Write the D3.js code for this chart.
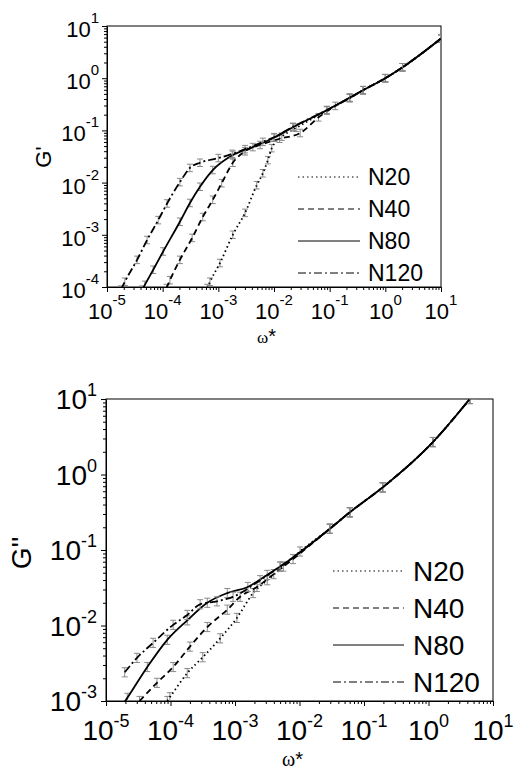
<!DOCTYPE html>
<html>
<head>
<meta charset="utf-8">
<script src="https://cdn.jsdelivr.net/npm/d3@7"></script>
<style>
  body { margin: 0; background: #fff; }
  svg { display: block; }
  text { font-family: "Liberation Sans", Arial, sans-serif; fill: #000; }
</style>
</head>
<body>
<svg id="chart" width="514" height="770"></svg>
<script>
// data: [omega*, modulus]
// storage modulus G'
var gp_N20 = [[6.31e-4, 9.55e-5], [7.08e-4, 1.26e-4], [1.07e-3, 2.88e-4], [1.82e-3, 1.0e-3], [3.02e-3, 2.63e-3],
  [4.90e-3, 8.91e-3], [6.31e-3, 1.51e-2], [7.76e-3, 2.69e-2], [9.12e-3, 4.57e-2], [1.38e-2, 7.59e-2],
  [2.51e-2, 0.112], [8.91e-2, 0.240], [0.229, 0.417], [0.398, 0.589], [1, 1], [2.04, 1.62], [10, 5.75]]
var gp_N40 = [[1.17e-4, 9.55e-5], [1.35e-4, 1.35e-4], [2.04e-4, 3.31e-4], [3.39e-4, 8.71e-4], [5.25e-4, 2.19e-3],
  [7.94e-4, 4.68e-3], [1.15e-3, 9.77e-3], [1.82e-3, 2.40e-2], [3.02e-3, 3.98e-2], [5.62e-3, 5.25e-2],
  [1.26e-2, 6.92e-2], [2.95e-2, 8.91e-2], [6.31e-2, 0.178], [0.126, 0.295], [0.229, 0.417], [0.398, 0.589],
  [1, 1], [2.04, 1.62], [10, 5.75]]
var gp_N80 = [[4.27e-5, 8.9e-5], [4.79e-5, 1.10e-4], [6.76e-5, 2.14e-4], [1.02e-4, 4.79e-4], [2.04e-4, 1.78e-3],
  [3.09e-4, 4.07e-3], [4.68e-4, 8.32e-3], [7.94e-4, 1.74e-2], [1.82e-3, 3.39e-2], [4.17e-3, 4.79e-2],
  [1.0e-2, 7.24e-2], [2.19e-2, 0.115], [8.91e-2, 0.245], [0.229, 0.427], [0.398, 0.589], [1, 1],
  [2.04, 1.62], [10, 5.75]]
var gp_N120 = [[1.78e-5, 8.9e-5], [2.09e-5, 1.26e-4], [3.47e-5, 3.31e-4], [5.25e-5, 7.94e-4], [8.32e-5, 1.91e-3],
  [1.20e-4, 3.98e-3], [2.04e-4, 1.02e-2], [3.09e-4, 1.91e-2], [4.68e-4, 2.40e-2], [1.0e-3, 2.95e-2],
  [1.78e-3, 3.55e-2], [3.02e-3, 4.37e-2], [6.31e-3, 6.03e-2], [1.0e-2, 7.41e-2], [2.19e-2, 0.117],
  [8.91e-2, 0.245], [0.229, 0.417], [0.398, 0.589], [1, 1], [2.04, 1.62], [10, 5.75]]

// loss modulus G''
var gpp_N20 = [[8.9e-5, 1.0e-3], [9.77e-5, 1.12e-3], [1.82e-4, 2.34e-3], [3.16e-4, 3.80e-3], [5.89e-4, 6.76e-3],
  [1.07e-3, 1.26e-2], [1.91e-3, 2.69e-2], [3.16e-3, 3.98e-2], [5.62e-3, 6.03e-2], [1.02e-2, 9.55e-2],
  [2.95e-2, 0.191], [6.03e-2, 0.316], [0.195, 0.676], [1.17, 2.69], [4.37, 10], [5.0, 11.5]]
var gpp_N40 = [[3.31e-5, 1.0e-3], [6.17e-5, 1.74e-3], [1.10e-4, 2.82e-3], [2.0e-4, 5.25e-3], [3.72e-4, 9.55e-3],
  [7.59e-4, 1.62e-2], [1.20e-3, 2.40e-2], [2.19e-3, 3.24e-2], [3.98e-3, 4.79e-2], [7.94e-3, 7.59e-2],
  [2.95e-2, 0.191], [6.03e-2, 0.316], [0.195, 0.676], [1.17, 2.69], [4.37, 10], [5.0, 11.5]]
var gpp_N80 = [[1.78e-5, 8.7e-4], [2.14e-5, 1.10e-3], [4.37e-5, 2.82e-3], [8.91e-5, 6.46e-3], [1.82e-4, 1.17e-2],
  [3.72e-4, 2.0e-2], [7.59e-4, 2.69e-2], [1.58e-3, 3.24e-2], [3.16e-3, 4.68e-2], [5.01e-3, 6.03e-2],
  [2.95e-2, 0.191], [6.03e-2, 0.316], [0.195, 0.676], [1.17, 2.69], [4.37, 10], [5.0, 11.5]]
var gpp_N120 = [[1.95e-5, 2.40e-3], [3.02e-5, 3.72e-3], [5.37e-5, 5.89e-3], [1.10e-4, 1.02e-2], [1.82e-4, 1.38e-2],
  [2.88e-4, 1.91e-2], [5.25e-4, 2.09e-2], [9.33e-4, 2.40e-2], [2.45e-3, 3.98e-2], [5.01e-3, 6.03e-2],
  [2.95e-2, 0.191], [6.03e-2, 0.316], [0.195, 0.676], [1.17, 2.69], [4.37, 10], [5.0, 11.5]]

var seriesNames = ['N20', 'N40', 'N80', 'N120']
var dashes = ['1.5,3', '6,4', null, '8,3,2,3']
var xExponents = [-5, -4, -3, -2, -1, 0, 1]
var yExponentsTop = [-4, -3, -2, -1, 0, 1]
var yExponentsBottom = [-3, -2, -1, 0, 1]

var svg = d3.select('#chart')

function drawPanel(p) {
  var x = d3.scaleLog().domain([1e-5, 10]).range([p.left, p.right])
  var y = d3.scaleLog().domain(p.ydomain).range([p.bottom, p.top])
  var g = svg.append('g')
  var clipId = 'clip' + p.id
  g.append('clipPath').attr('id', clipId).append('rect')
    .attr('x', p.left).attr('y', p.top).attr('width', p.right - p.left).attr('height', p.bottom - p.top)

  // frame
  g.append('rect').attr('x', p.left).attr('y', p.top)
    .attr('width', p.right - p.left).attr('height', p.bottom - p.top)
    .attr('fill', 'none').attr('stroke', '#000').attr('stroke-width', 1)

  // axes with minor ticks
  var xAxis = g.append('g').attr('transform', 'translate(0,' + p.bottom + ')')
    .call(d3.axisBottom(x).tickValues(x.ticks()).tickFormat('').tickSizeOuter(0))
  var yAxis = g.append('g').attr('transform', 'translate(' + p.left + ',0)')
    .call(d3.axisLeft(y).tickValues(y.ticks()).tickFormat('').tickSizeOuter(0))
  function isMajor(v) { return Math.abs(Math.log10(v) - Math.round(Math.log10(v))) < 1e-6 }
  xAxis.selectAll('.tick line').attr('y2', function(d) { return isMajor(d) ? 5 : 3 })
  yAxis.selectAll('.tick line').attr('x2', function(d) { return isMajor(d) ? -5 : -3 })
  g.selectAll('.domain, .tick line').attr('stroke', '#000')

  // tick labels 10^n
  xExponents.forEach(function(e) {
    var t = g.append('text').attr('x', x(Math.pow(10, e))).attr('y', p.bottom + p.xLabelOff)
      .attr('text-anchor', 'middle').style('font-size', p.font + 'px').text('10')
    t.append('tspan').attr('dy', -p.supRaise).style('font-size', p.supFont + 'px').text(e)
  })
  p.yExponents.forEach(function(e) {
    var t = g.append('text').attr('x', p.left - p.yLabelGap).attr('y', y(Math.pow(10, e)) + p.yLabelOff)
      .attr('text-anchor', 'end').style('font-size', p.font + 'px').text('10')
    t.append('tspan').attr('dy', -p.supRaise).style('font-size', p.supFont + 'px').text(e)
  })

  // axis titles
  g.append('text').attr('transform', 'translate(' + p.ytitle[0] + ',' + p.ytitle[1] + ') rotate(-90)')
    .attr('text-anchor', 'middle').attr('dominant-baseline', 'central')
    .style('font-size', p.ytitleFont + 'px').text(p.ylabel)
  var xt = g.append('text').attr('x', p.xtitle[0]).attr('y', p.xtitle[1])
    .style('font-family', '"Liberation Serif", serif').style('font-size', p.omegaFont + 'px').text('ω')
  xt.append('tspan').style('font-family', '"Liberation Sans", Arial, sans-serif')
    .style('font-size', p.starFont + 'px').text('*')

  // curves
  var line = d3.line().x(function(d) { return x(d[0]) }).y(function(d) { return y(d[1]) })
    .curve(d3.curveMonotoneX)
  var plot = g.append('g').attr('clip-path', 'url(#' + clipId + ')')
  p.series.forEach(function(s, i) {
    // error bars
    var eb = plot.append('g').attr('stroke', '#8a8a8a').attr('stroke-width', 1)
    s.forEach(function(d) {
      var cx = x(d[0]), y0 = y(d[1] * (1 + p.err)), y1 = y(d[1] / (1 + p.err))
      eb.append('line').attr('x1', cx).attr('x2', cx).attr('y1', y0).attr('y2', y1)
      eb.append('line').attr('x1', cx - 3).attr('x2', cx + 3).attr('y1', y0).attr('y2', y0)
      eb.append('line').attr('x1', cx - 3).attr('x2', cx + 3).attr('y1', y1).attr('y2', y1)
    })
    plot.append('path').datum(s).attr('d', line)
      .attr('fill', 'none').attr('stroke', '#000').attr('stroke-width', 1.8)
      .attr('stroke-dasharray', dashes[i])
  })

  // legend
  seriesNames.forEach(function(name, i) {
    var ly = p.legend.y0 + i * p.legend.step
    g.append('line').attr('x1', p.legend.x1).attr('x2', p.legend.x2).attr('y1', ly).attr('y2', ly)
      .attr('stroke', '#000').attr('stroke-width', 1).attr('stroke-dasharray', dashes[i])
    g.append('text').attr('x', p.legend.tx).attr('y', ly).attr('dominant-baseline', 'central')
      .style('font-size', p.legend.font + 'px').text(name)
  })
}

drawPanel({
  id: 'top', left: 107, right: 441, top: 26, bottom: 287, ydomain: [1e-4, 10],
  yExponents: yExponentsTop, series: [gp_N20, gp_N40, gp_N80, gp_N120], err: 0.18,
  font: 22, supFont: 15, supRaise: 14, xLabelOff: 32, yLabelGap: 8, yLabelOff: 11,
  ylabel: "G'", ytitle: [43, 157], ytitleFont: 22,
  xtitle: [257, 343], omegaFont: 17, starFont: 20,
  legend: { x1: 298, x2: 360, tx: 368, y0: 177, step: 32, font: 23 }
})

drawPanel({
  id: 'bottom', left: 106, right: 493, top: 399, bottom: 701, ydomain: [1e-3, 10],
  yExponents: yExponentsBottom, series: [gpp_N20, gpp_N40, gpp_N80, gpp_N120], err: 0.15,
  font: 28, supFont: 18, supRaise: 13, xLabelOff: 39, yLabelGap: 9, yLabelOff: 10,
  ylabel: "G''", ytitle: [21, 553], ytitleFont: 28,
  xtitle: [282, 766], omegaFont: 20, starFont: 20,
  legend: { x1: 333, x2: 404, tx: 413, y0: 571, step: 37, font: 28 }
})
</script>
</body>
</html>
